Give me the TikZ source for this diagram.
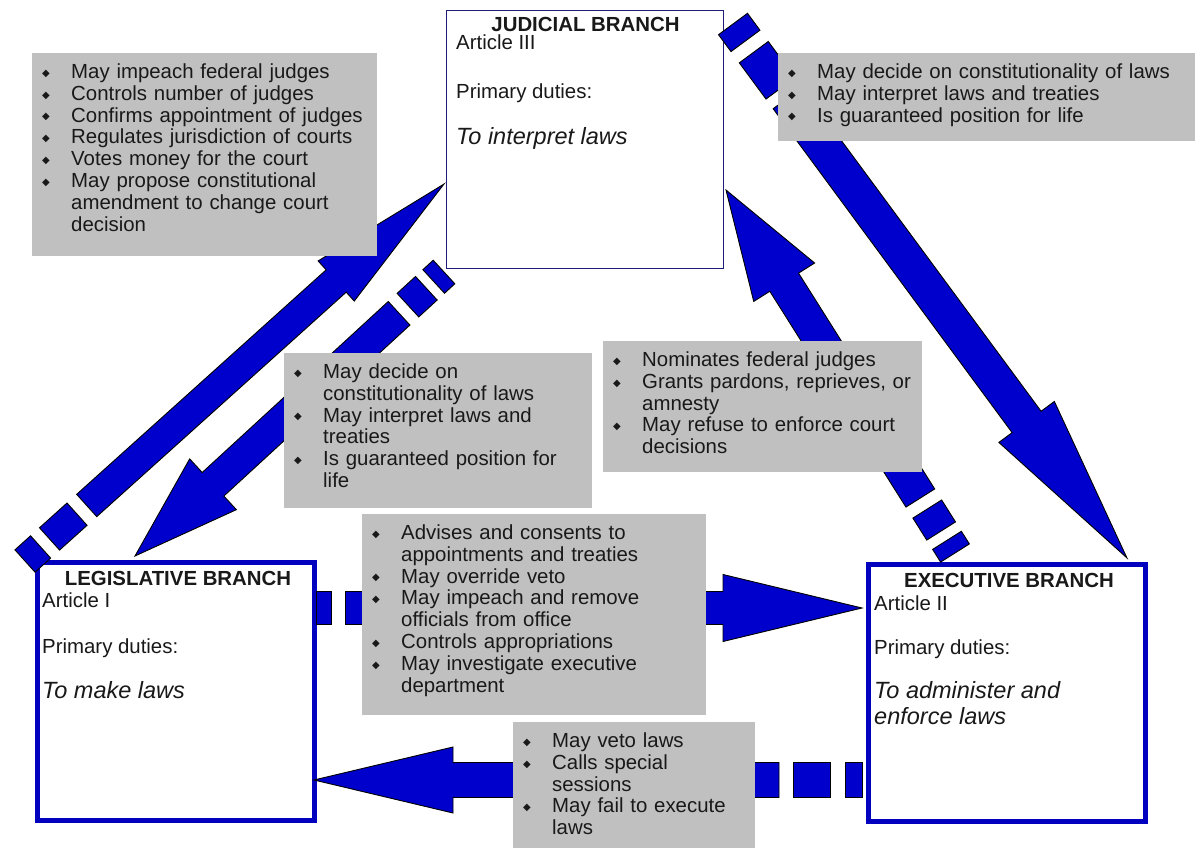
\documentclass[tikz,border=0pt]{standalone}
\usepackage{fontspec}
\setmainfont{Liberation Sans}
\newfontfamily\symfont{DejaVu Sans}
\usetikzlibrary{calc}
\definecolor{arrblue}{RGB}{0,0,204}
\definecolor{boxblue}{RGB}{0,0,190}
\definecolor{navy}{RGB}{30,30,120}
\definecolor{panel}{RGB}{192,192,192}
\definecolor{ink}{RGB}{25,25,25}
\newcommand\dia{\raisebox{2.2pt}{\symfont\fontsize{10}{10}\selectfont ◆}}
\newcommand\itm[1]{\hangindent=29pt\hangafter=1\noindent\makebox[29pt][l]{\dia}#1\par}
% #1 tail, #2 tip, #3 shaft width, #4 head width, #5 head length,
% #6 end of dash 1, #7 start of dash 2, #8 end of dash 2, #9 start of shaft
\newcommand\barrow[9]{%
  \pgfpointdiff{\pgfpointanchor{#1}{center}}{\pgfpointanchor{#2}{center}}%
  \pgfgetlastxy\bdx\bdy
  \pgfmathsetmacro\barang{atan2(\bdy,\bdx)}%
  \pgfmathsetmacro\barlen{veclen(\bdx,\bdy)}%
  \pgfmathsetmacro\hs{#3/2}%
  \pgfmathsetmacro\hh{#4/2}%
  \pgfmathsetmacro\hb{\barlen-#5}%
  \begin{scope}[shift={(#1)}, rotate=\barang]
    \filldraw[arr] (0pt,-\hs pt) -- (#6pt,-\hs pt) -- (#6pt,\hs pt) -- (0pt,\hs pt) -- cycle;
    \filldraw[arr] (#7pt,-\hs pt) -- (#8pt,-\hs pt) -- (#8pt,\hs pt) -- (#7pt,\hs pt) -- cycle;
    \filldraw[arr] (#9pt,-\hs pt) -- (\hb pt,-\hs pt) -- (\hb pt,-\hh pt) -- (\barlen pt,0pt)
      -- (\hb pt,\hh pt) -- (\hb pt,\hs pt) -- (#9pt,\hs pt) -- cycle;
  \end{scope}}
\tikzset{
  arr/.style={fill=arrblue, draw=black, line width=0.9pt, line join=miter},
  panelbox/.style={fill=panel, draw=none, inner sep=0pt, anchor=north west},
  listtxt/.style={anchor=base west, inner sep=0pt, text width=420pt, align=left,
    font=\fontsize{20.4}{21.8}\selectfont, text=ink},
  branch/.style={fill=white, inner sep=0pt, anchor=north west},
  btitle/.style={anchor=base, inner sep=0pt, font=\bfseries\fontsize{20.4}{22}\selectfont, text=ink},
  btext/.style={anchor=base west, inner sep=0pt, font=\fontsize{20.4}{22}\selectfont, text=ink},
  bduty/.style={anchor=base west, inner sep=0pt, font=\itshape\fontsize{23.5}{26}\selectfont, text=ink}
}
\begin{document}
\begin{tikzpicture}[x=1pt, y=-1pt]
\useasboundingbox (0,0) rectangle (1195,848);
\fill[white] (0,0) rectangle (1195,848);

% branch boxes
\node[branch, draw=navy, line width=1.3pt, minimum width=277pt, minimum height=258pt] (jud) at (446,10) {};
\node[branch, draw=boxblue, line width=4.5pt, minimum width=277pt, minimum height=258pt] (leg) at (35,560) {};
\node[branch, draw=boxblue, line width=4.5pt, minimum width=277pt, minimum height=257pt] (exe) at (866,562) {};

\node[btitle] (judt) at (585.5,32) {JUDICIAL BRANCH};
\node[btext] (juda) at (456,50) {Article III};
\node[btext] (judp) at (456,99) {Primary duties:};
\node[bduty] (judd) at (456,145) {To interpret laws};

\node[btitle] (legt) at (178,585) {LEGISLATIVE BRANCH};
\node[btext] (lega) at (42,607.5) {Article I};
\node[btext] (legp) at (42,653) {Primary duties:};
\node[bduty] (legd) at (42,698) {To make laws};

\node[btitle] (exet) at (1009,587) {EXECUTIVE BRANCH};
\node[btext] (exea) at (874,610) {Article II};
\node[btext] (exep) at (874,654) {Primary duties:};
\node[bduty] (exed) at (874,698) {To administer and};
\node[bduty] (exee) at (874,724) {enforce laws};

% arrow end points
\coordinate (a1s) at (25,561);   \coordinate (a1e) at (444,184);
\coordinate (a2s) at (444,272);  \coordinate (a2e) at (135,556);
\coordinate (a3s) at (955,553);  \coordinate (a3e) at (726,190);
\coordinate (a4s) at (733,24);   \coordinate (a4e) at (1127,558);
\coordinate (a5s) at (316,608);  \coordinate (a5e) at (862,608);
\coordinate (a6s) at (862,780);  \coordinate (a6e) at (314,780);

\barrow{a1s}{a1e}{30}{54}{145}{21}{33}{70}{83}
\barrow{a2s}{a2e}{32}{69}{106}{14}{24}{49}{61}
\barrow{a3s}{a3e}{34}{72}{109}{15}{26}{52}{65}
\barrow{a4s}{a4e}{36}{69}{169}{21}{35}{80}{92}
\barrow{a5s}{a5e}{33}{67}{139}{15}{29}{66}{80}
\barrow{a6s}{a6e}{35}{66}{139}{17}{32}{69}{83}

% grey panels
\node[panelbox, minimum width=345pt, minimum height=203pt] (g1) at (32,53) {};
\node[panelbox, minimum width=417pt, minimum height=88pt] (g2) at (778,53) {};
\node[panelbox, minimum width=308pt, minimum height=155pt] (g3) at (284,353) {};
\node[panelbox, minimum width=319pt, minimum height=131pt] (g4) at (603,341) {};
\node[panelbox, minimum width=344pt, minimum height=201pt] (g5) at (362,514) {};
\node[panelbox, minimum width=242pt, minimum height=126pt] (g6) at (513,722) {};

\node[listtxt] (l1) at (42,78.5) {\itm{May impeach federal judges}\itm{Controls number of judges}\itm{Confirms appointment of judges}\itm{Regulates jurisdiction of courts}\itm{Votes money for the court}\itm{May propose constitutional\newline amendment to change court\newline decision}};
\node[listtxt] (l2) at (788,78.5) {\itm{May decide on constitutionality of laws}\itm{May interpret laws and treaties}\itm{Is guaranteed position for life}};
\node[listtxt] (l3) at (294,378.5) {\itm{May decide on\newline constitutionality of laws}\itm{May interpret laws and\newline treaties}\itm{Is guaranteed position for\newline life}};
\node[listtxt] (l4) at (613,366.5) {\itm{Nominates federal judges}\itm{Grants pardons, reprieves, or\newline amnesty}\itm{May refuse to enforce court\newline decisions}};
\node[listtxt] (l5) at (372,539.5) {\itm{Advises and consents to\newline appointments and treaties}\itm{May override veto}\itm{May impeach and remove\newline officials from office}\itm{Controls appropriations}\itm{May investigate executive\newline department}};
\node[listtxt] (l6) at (523,747.5) {\itm{May veto laws}\itm{Calls special\newline sessions}\itm{May fail to execute\newline laws}};
\end{tikzpicture}
\end{document}
